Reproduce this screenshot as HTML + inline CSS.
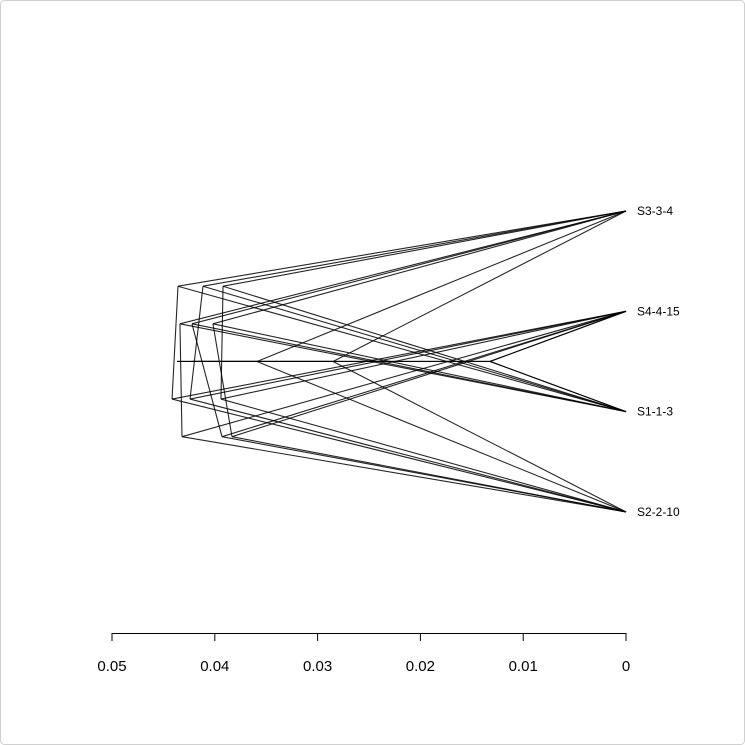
<!DOCTYPE html>
<html><head><meta charset="utf-8"><style>
html,body{margin:0;padding:0;background:#fff;}
#wrap{position:relative;width:745px;height:745px;overflow:hidden;}
svg{position:absolute;left:0;top:0;}
</style></head><body>
<div id="wrap">
<svg id="svg" width="745" height="745" viewBox="0 0 745 745">
<rect x="0.5" y="0.5" width="744" height="744" rx="4" fill="#fff" stroke="#d0d0d0"/>
<g id="trees"></g>
<g id="tips"></g>
<g id="axis"></g>
</svg>
</div>
<script>
// tip labels (top to bottom)
const tipNames = ["S3-3-4", "S4-4-15", "S1-1-3", "S2-2-10"];
// axis ticks
const tickValues = [0.05, 0.04, 0.03, 0.02, 0.01, 0];
const tickLabels = ["0.05", "0.04", "0.03", "0.02", "0.01", "0"];
// each tree: node heights, node vertical positions (tip-index units), edges [parent, child]
// nodes 0..3 are tips S3,S4,S1,S2
const treeHeights = [
  [0,0,0,0, 0.04416, 0.04358],
  [0,0,0,0, 0.04241, 0.04115],
  [0,0,0,0, 0.0394, 0.0392],
  [0,0,0,0, 0.04339, 0.04319],
  [0,0,0,0, 0.04222, 0.0393],
  [0,0,0,0, 0.04018, 0.03833],
  [0,0,0,0, 0.04368, 0.0359, 0.01323],
  [0,0,0,0, 0.04222, 0.0285, 0.01323]
];
const treePositions = [
  [0,1,2,3, 1.875, 0.75],
  [0,1,2,3, 1.875, 0.75],
  [0,1,2,3, 1.875, 0.75],
  [0,1,2,3, 1.125, 2.25],
  [0,1,2,3, 1.125, 2.25],
  [0,1,2,3, 1.125, 2.25],
  [0,1,2,3, 1.5, 1.5, 1.5],
  [0,1,2,3, 1.5, 1.5, 1.5]
];
const treeEdges = [
  [[4,5],[4,3],[5,0],[5,2],[4,1]],
  [[4,5],[4,3],[5,0],[5,2],[4,1]],
  [[4,5],[4,3],[5,0],[5,2],[4,1]],
  [[4,0],[4,5],[5,1],[5,3],[4,2]],
  [[4,0],[4,5],[5,1],[5,3],[4,2]],
  [[4,0],[4,5],[5,1],[5,3],[4,2]],
  [[4,5],[4,6],[5,0],[5,3],[6,1],[6,2]],
  [[4,5],[4,6],[5,0],[5,3],[6,1],[6,2]]
];

const NS = "http://www.w3.org/2000/svg";
const xScale = h => 626 - h * 10280;
const yScale = p => 211 + p * 100.3;

const gT = document.getElementById("trees");
treeEdges.forEach((edges, t) => {
  const g = document.createElementNS(NS, "g");
  
  
  edges.forEach(([p, c]) => {
    const l = document.createElementNS(NS, "line");
    
    
    l.setAttribute("x1", xScale(treeHeights[t][p]));
    l.setAttribute("y1", yScale(treePositions[t][p]));
    l.setAttribute("x2", xScale(treeHeights[t][c]));
    l.setAttribute("y2", yScale(treePositions[t][c]));
    l.setAttribute("stroke", "#000");
    l.setAttribute("stroke-opacity", "0.85");
    l.setAttribute("stroke-width", "1.1");
    g.appendChild(l);
  });
  gT.appendChild(g);
});

const gL = document.getElementById("tips");
tipNames.forEach((n, i) => {
  const t = document.createElementNS(NS, "text");
  
  
  t.setAttribute("x", 637);
  t.setAttribute("y", yScale(i) + 4);
  t.setAttribute("font-family", "Liberation Sans, DejaVu Sans, sans-serif");
  t.setAttribute("font-size", "12");
  t.textContent = n;
  gL.appendChild(t);
});

const gA = document.getElementById("axis");
const axLine = document.createElementNS(NS, "line");


axLine.setAttribute("x1", xScale(tickValues[0]));
axLine.setAttribute("x2", xScale(tickValues[tickValues.length - 1]));
axLine.setAttribute("y1", 633.5);
axLine.setAttribute("y2", 633.5);
axLine.setAttribute("stroke", "#000");
gA.appendChild(axLine);
tickValues.forEach((v, i) => {
  const x = xScale(v);
  const tk = document.createElementNS(NS, "line");
  
  
  tk.setAttribute("x1", x); tk.setAttribute("x2", x);
  tk.setAttribute("y1", 633); tk.setAttribute("y2", 641);
  tk.setAttribute("stroke", "#000");
  gA.appendChild(tk);
  const tx = document.createElementNS(NS, "text");
  
  
  tx.setAttribute("x", x);
  tx.setAttribute("y", 671);
  tx.setAttribute("text-anchor", "middle");
  tx.setAttribute("font-family", "Liberation Sans, DejaVu Sans, sans-serif");
  tx.setAttribute("font-size", "15");
  tx.textContent = tickLabels[i];
  gA.appendChild(tx);
});
</script>
</body></html>
